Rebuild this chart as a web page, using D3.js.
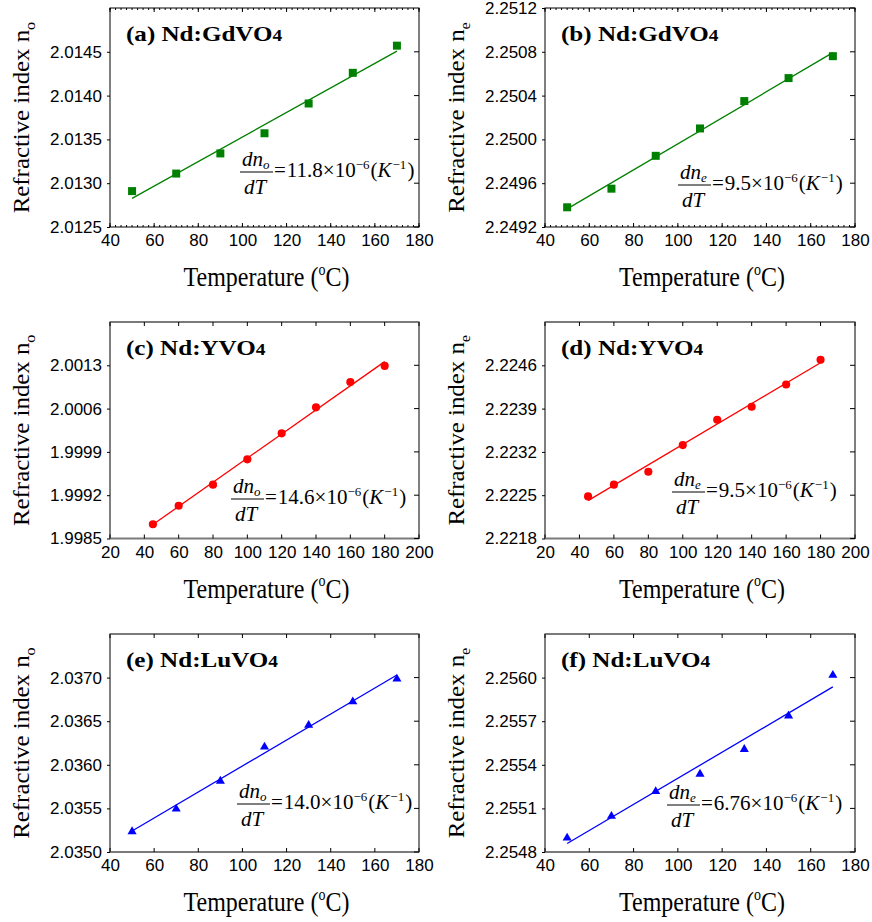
<!doctype html>
<html lang="en">
<head>
<meta charset="UTF-8">
<title>Refractive index vs temperature</title>
<script src="https://cdn.jsdelivr.net/npm/d3@7"></script>
<style>
  body { margin: 0; background: #fff; }
  text { fill: #000; }
</style>
</head>
<body>
<script>
  // temperatures (°C)
  var tempGd = [50, 70, 90, 110, 130, 150, 170];
  var tempY  = [45, 60, 80, 100, 120, 140, 160, 180];
  var tempLu = [50, 70, 90, 110, 130, 150, 170];

  // refractive indices
  var noGd = [2.01291, 2.01311, 2.01334, 2.01357, 2.01391, 2.01426, 2.01457];
  var neGd = [2.24938, 2.24955, 2.24985, 2.25010, 2.25035, 2.25056, 2.25076];
  var noY  = [1.99873, 1.99903, 1.99937, 1.99978, 2.00020, 2.00062, 2.00103, 2.00129];
  var neY  = [2.22248, 2.22267, 2.22288, 2.22331, 2.22372, 2.22393, 2.22429, 2.22469];
  var noLu = [2.03524, 2.03550, 2.03582, 2.03621, 2.03646, 2.03673, 2.03699];
  var neLu = [2.25490, 2.25505, 2.25522, 2.25534, 2.25551, 2.25574, 2.25602];

  // tick labels
  var xTicksA = [40, 60, 80, 100, 120, 140, 160, 180];
  var xTicksB = [20, 40, 60, 80, 100, 120, 140, 160, 180, 200];
  var yTicksGdO = [2.0125, 2.0130, 2.0135, 2.0140, 2.0145];
  var yTicksGdE = [2.2492, 2.2496, 2.2500, 2.2504, 2.2508, 2.2512];
  var yTicksYO  = [1.9985, 1.9992, 1.9999, 2.0006, 2.0013];
  var yTicksYE  = [2.2218, 2.2225, 2.2232, 2.2239, 2.2246];
  var yTicksLuO = [2.0350, 2.0355, 2.0360, 2.0365, 2.0370];
  var yTicksLuE = [2.2548, 2.2551, 2.2554, 2.2557, 2.2560];

  var titles = ["(a) Nd:GdVO", "(b) Nd:GdVO", "(c) Nd:YVO", "(d) Nd:YVO", "(e) Nd:LuVO", "(f) Nd:LuVO"];
  var slopes = ["11.8", "9.5", "14.6", "9.5", "14.0", "6.76"];

  var width = 872, height = 922;
  var serif = "'Liberation Serif', 'Times New Roman', serif";
  var sans = "'Liberation Sans', Arial, sans-serif";

  var svg = d3.select("body").append("svg")
      .attr("width", width)
      .attr("height", height);

  var cols = [[110, 419], [545, 855]];
  var rows = [[8, 227], [322, 538.5], [634, 852]];

  var panels = [
    {x: tempGd, y: noGd, xd: [40, 180], xt: xTicksA, yd: [2.0125, 2.0150], yt: yTicksGdO, sub: "o", color: "#008000", mark: "square", minor: true, fx: 130, fy: 169},
    {x: tempGd, y: neGd, xd: [40, 180], xt: xTicksA, yd: [2.2492, 2.2512], yt: yTicksGdE, sub: "e", color: "#008000", mark: "square", minor: true, fx: 133, fy: 182},
    {x: tempY,  y: noY,  xd: [20, 200], xt: xTicksB, yd: [1.9985, 2.0020], yt: yTicksYO,  sub: "o", color: "#ff0000", mark: "circle", minor: false, fx: 121, fy: 182},
    {x: tempY,  y: neY,  xd: [20, 200], xt: xTicksB, yd: [2.2218, 2.2253], yt: yTicksYE,  sub: "e", color: "#ff0000", mark: "circle", minor: false, fx: 127, fy: 175},
    {x: tempLu, y: noLu, xd: [40, 180], xt: xTicksA, yd: [2.0350, 2.0375], yt: yTicksLuO, sub: "o", color: "#0000ff", mark: "triangle", minor: false, fx: 127, fy: 175},
    {x: tempLu, y: neLu, xd: [40, 180], xt: xTicksA, yd: [2.2548, 2.2563], yt: yTicksLuE, sub: "e", color: "#0000ff", mark: "triangle", minor: false, fx: 122, fy: 176}
  ];

  // least squares fit
  function fit(xs, ys) {
    var mx = d3.mean(xs), my = d3.mean(ys);
    var sxy = d3.sum(xs, function(v, i) { return (v - mx) * (ys[i] - my); });
    var sxx = d3.sum(xs, function(v) { return (v - mx) * (v - mx); });
    var b = sxy / sxx;
    return function(t) { return my + b * (t - mx); };
  }

  panels.forEach(function(p, i) {
    var c = cols[i % 2], r = rows[Math.floor(i / 2)];
    var x0 = c[0], x1 = c[1], y0 = r[0], y1 = r[1];
    var w = x1 - x0, h = y1 - y0;

    var x = d3.scaleLinear().domain(p.xd).range([x0, x1]);
    var y = d3.scaleLinear().domain(p.yd).range([y1, y0]);
    var g = svg.append("g");

    // frame
    g.append("rect")
        .attr("x", x0).attr("y", y0).attr("width", w).attr("height", h)
        .attr("fill", "none").attr("stroke", "#000").attr("stroke-width", 1);
    if (!p.minor) {
      g.append("line").attr("x1", x0).attr("x2", x1).attr("y1", y0).attr("y2", y0)
          .attr("stroke", "#7a7a7a").attr("stroke-width", 2);
      g.append("line").attr("x1", x0).attr("x2", x1).attr("y1", y1).attr("y2", y1)
          .attr("stroke", "#7a7a7a").attr("stroke-width", 2);
    }

    // bottom axis labels + ticks
    var xAxis = d3.axisBottom(x).tickValues(p.xt).tickSize(0).tickPadding(7)
        .tickFormat(d3.format("d"));
    var xa = g.append("g").attr("transform", "translate(0," + y1 + ")").call(xAxis);
    xa.select(".domain").remove();
    xa.selectAll("text").attr("font-family", sans).attr("font-size", 17).attr("fill", "#000");

    var minorT = p.minor ? d3.range(p.xd[0], p.xd[1] + 0.01, 2.5) : [];
    [y0, y1].forEach(function(yy, k) {
      var dir = k === 0 ? 1 : -1;
      g.selectAll(null).data(minorT).enter().append("line")
          .attr("x1", x).attr("x2", x)
          .attr("y1", yy).attr("y2", yy + dir * 2)
          .attr("stroke", "#000").attr("stroke-width", 1);
      g.selectAll(null).data(p.xt).enter().append("line")
          .attr("x1", x).attr("x2", x)
          .attr("y1", yy).attr("y2", yy + dir * 4)
          .attr("stroke", "#000").attr("stroke-width", 1);
    });

    // left axis (outward ticks) and right inward ticks
    var yAxis = d3.axisLeft(y).tickValues(p.yt).tickSize(3).tickPadding(5)
        .tickFormat(d3.format(".4f"));
    var ya = g.append("g").attr("transform", "translate(" + x0 + ",0)").call(yAxis);
    ya.select(".domain").remove();
    ya.selectAll("text").attr("font-family", sans).attr("font-size", 17).attr("fill", "#000");
    ya.selectAll("line").attr("stroke", "#000");
    g.selectAll(null).data(p.yt).enter().append("line")
        .attr("x1", x1).attr("x2", x1 - 5)
        .attr("y1", y).attr("y2", y)
        .attr("stroke", "#000").attr("stroke-width", 1);

    // fit line
    var f = fit(p.x, p.y);
    var xs = d3.extent(p.x);
    g.append("line")
        .attr("x1", x(xs[0])).attr("y1", y(f(xs[0])))
        .attr("x2", x(xs[1])).attr("y2", y(f(xs[1])))
        .attr("stroke", p.color).attr("stroke-width", 1.3);

    // markers
    var pts = p.x.map(function(t, k) { return [t, p.y[k]]; });
    var sym = p.mark === "square" ? d3.symbolSquare : p.mark === "circle" ? d3.symbolCircle : d3.symbolTriangle;
    var size = p.mark === "square" ? 64 : p.mark === "circle" ? 52 : 36;
    g.selectAll(null).data(pts).enter().append("path")
        .attr("d", d3.symbol().type(sym).size(size))
        .attr("transform", function(d) {
          var dy = p.mark === "triangle" ? 0.5 : 0;
          return "translate(" + x(d[0]) + "," + (y(d[1]) + dy) + ")";
        })
        .attr("fill", p.color);

    // title
    var tt = g.append("text")
        .attr("transform", "translate(" + (x0 + 16) + "," + (y0 + 33) + ") scale(1.14,1)")
        .attr("font-family", serif).attr("font-weight", "bold").attr("font-size", 22);
    tt.append("tspan").text(titles[i]);
    tt.append("tspan").attr("font-size", 17).text("4");

    // x label
    var xl = g.append("text")
        .attr("transform", "translate(" + ((x0 + x1) / 2 + 2) + "," + (y1 + 59) + ") scale(1,1.15)")
        .attr("text-anchor", "middle")
        .attr("font-family", serif).attr("font-size", 24);
    xl.append("tspan").text("Temperature (");
    xl.append("tspan").attr("font-size", 14).attr("dy", -10).text("o");
    xl.append("tspan").attr("dy", 10).text("C)");

    // y label
    var yl = g.append("text")
        .attr("transform", "translate(" + (x0 - 81) + "," + ((y0 + y1) / 2) + ") rotate(-90) scale(1.08,1)")
        .attr("text-anchor", "middle")
        .attr("font-family", serif).attr("font-size", 23);
    yl.append("tspan").text("Refractive index n");
    yl.append("tspan").attr("font-size", 15).attr("dy", 6).text(p.sub);

    // slope formula
    var fx = x0 + p.fx, fb = y0 + p.fy;
    var fg = g.append("g").attr("font-family", serif).attr("font-size", 21);
    var num = fg.append("text").attr("x", fx + 2).attr("y", fb - 11).attr("font-style", "italic");
    num.append("tspan").text("dn");
    num.append("tspan").attr("font-size", 13).attr("dy", 3).text(p.sub);
    var barW = 33;
    fg.append("line")
        .attr("x1", fx).attr("x2", fx + barW)
        .attr("y1", fb - 5).attr("y2", fb - 5)
        .attr("stroke", "#000").attr("stroke-width", 1);
    fg.append("text").attr("x", fx + 4).attr("y", fb + 17).attr("font-style", "italic").text("dT");
    var eq = fg.append("text").attr("x", fx + barW + 1).attr("y", fb);
    eq.append("tspan").text("=");
    eq.append("tspan").attr("dx", 1).text(slopes[i] + "\u00d710");
    eq.append("tspan").attr("font-size", 13).attr("dy", -8).text("\u22126");
    eq.append("tspan").attr("dy", 8).attr("dx", 1).text("(");
    eq.append("tspan").attr("font-style", "italic").text("K");
    eq.append("tspan").attr("font-size", 13).attr("dy", -8).attr("dx", 1).text("\u22121");
    eq.append("tspan").attr("dy", 8).attr("dx", 1).text(")");
  });
</script>
</body>
</html>
